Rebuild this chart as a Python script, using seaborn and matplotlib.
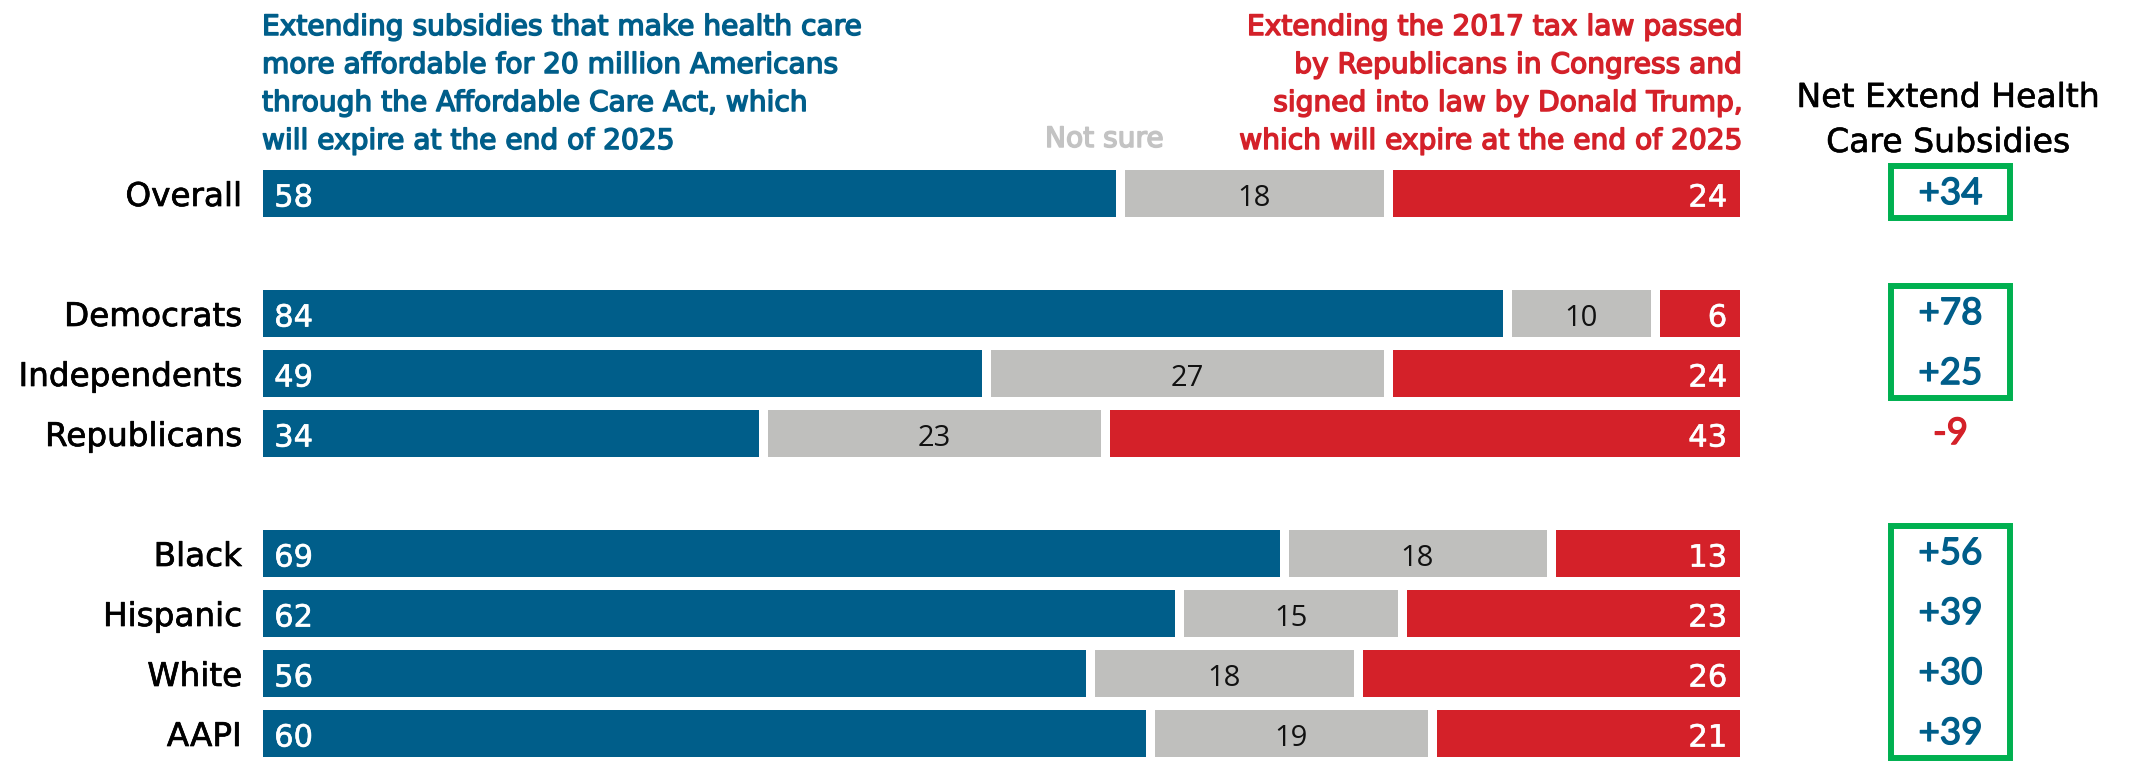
import matplotlib
matplotlib.use("Agg")
import matplotlib.pyplot as plt
import matplotlib.patheffects as pe
from matplotlib.patches import Rectangle
from matplotlib.transforms import offset_copy
import pandas as pd
import seaborn as sns

# ---- data -------------------------------------------------------------
groups = ["Overall", "Democrats", "Independents", "Republicans",
          "Black", "Hispanic", "White", "AAPI"]
extend_subsidies = [58, 84, 49, 34, 69, 62, 56, 60]
not_sure = [18, 10, 27, 23, 18, 15, 18, 19]
extend_tax_law = [24, 6, 24, 43, 13, 23, 26, 21]

# blank spacer rows separate the three blocks
row_order = ["Overall", "", "Democrats", "Independents", "Republicans", " ",
             "Black", "Hispanic", "White", "AAPI"]

left_header = ["Extending subsidies that make health care",
               "more affordable for 20 million Americans",
               "through the Affordable Care Act, which",
               "will expire at the end of 2025"]
right_header = ["Extending the 2017 tax law passed",
                "by Republicans in Congress and",
                "signed into law by Donald Trump,",
                "which will expire at the end of 2025"]
middle_header = "Not sure"
net_header = ["Net Extend Health", "Care Subsidies"]

# ---- styling ----------------------------------------------------------
BLUE = "#005E8A"
RED = "#D42129"
GRAY = "#BFBFBD"
GREEN = "#00B050"
NOT_SURE_GRAY = "#C3C3C3"

sns.set_theme(style="white")
plt.rcParams["font.family"] = ["DejaVu Sans"]

df = pd.DataFrame({"group": groups, "blue": extend_subsidies,
                   "gray": not_sure, "red": extend_tax_law})
df["net"] = df["blue"] - df["red"]
df["cum_gray"] = df["blue"] + df["gray"]
df["cum_red"] = df["cum_gray"] + df["red"]

W, H, DPI = 2131, 764, 100
fig = plt.figure(figsize=(W / DPI, H / DPI), dpi=DPI)
ax = fig.add_axes([257.5 / W, 1 / H, 1487 / W, 600 / H])

gap_pt = 9 * 72 / DPI
bar_kw = dict(orient="h", order=row_order, width=0.917, saturation=1,
              linewidth=gap_pt, edgecolor="white", errorbar=None, ax=ax)
# stacked by overdrawing cumulative totals; white edges give the gaps
sns.barplot(data=df, x="cum_red", y="group", color=RED, **bar_kw)
sns.barplot(data=df, x="cum_gray", y="group", color=GRAY, **bar_kw)
sns.barplot(data=df, x="blue", y="group", color=BLUE, **bar_kw)

ax.set_xlim(0, 100)
ax.set_ylim(len(row_order) - 0.5, -0.5)
ax.set_xlabel("")
ax.set_ylabel("")
ax.set_xticks([])
sns.despine(ax=ax, left=True, bottom=True)
ax.tick_params(axis="y", length=0, pad=11.2, labelsize=23.5, labelcolor="black")
for lbl in ax.get_yticklabels():
    lbl.set_path_effects([pe.withStroke(linewidth=0.5, foreground="black")])

left_tr = offset_copy(ax.transData, fig=fig, x=12, y=-1.5, units="points")
right_tr = offset_copy(ax.transData, fig=fig, x=-12.5, y=-1.5, units="points")
mid_tr = offset_copy(ax.transData, fig=fig, x=0, y=-1.5, units="points")
white_fx = [pe.withStroke(linewidth=0.4, foreground="white")]

NET_X = 113.85
for _, r in df.iterrows():
    y = row_order.index(r["group"])
    ax.text(0, y, f"{r['blue']}", transform=left_tr, ha="left",
            va="center_baseline", color="white", fontsize=22, path_effects=white_fx)
    ax.text(100, y, f"{r['red']}", transform=right_tr, ha="right",
            va="center_baseline", color="white", fontsize=22, path_effects=white_fx)
    ax.text(r["blue"] + r["gray"] / 2, y, f"{r['gray']}", transform=mid_tr,
            ha="center", va="center_baseline", color="#111111", fontsize=21,
            family=["Open Sans", "DejaVu Sans"])
    net_color = BLUE if r["net"] > 0 else RED
    ax.text(NET_X, y - 0.04, f"{r['net']:+d}", ha="center", va="center_baseline",
            color=net_color, fontsize=26.5, family=["Lato", "DejaVu Sans"],
            clip_on=False,
            path_effects=[pe.withStroke(linewidth=1.0, foreground=net_color)])

# green frames around consecutive rows with a positive net
net_by_row = {g: n for g, n in zip(df["group"], df["net"])}
runs, cur = [], []
for i, g in enumerate(row_order):
    if g in net_by_row and net_by_row[g] > 0:
        cur.append(i)
    else:
        if cur:
            runs.append(cur)
        cur = []
if cur:
    runs.append(cur)
for run in runs:
    top, bottom = run[0] - 0.45, run[-1] + 0.42
    ax.add_patch(Rectangle((NET_X - 4.0, top), 8.0, bottom - top, fill=False,
                           edgecolor=GREEN, linewidth=4.3, clip_on=False))

# ---- headers ----------------------------------------------------------
def fy(px):
    return 1 - px / H

baselines = [35, 73, 111, 149]
for line, yb in zip(left_header, baselines):
    fig.text(262 / W, fy(yb), line, ha="left", va="baseline", fontsize=20.2,
             color=BLUE, path_effects=[pe.withStroke(linewidth=1.1, foreground=BLUE)])
for line, yb in zip(right_header, baselines):
    fig.text(1740 / W, fy(yb), line, ha="right", va="baseline", fontsize=20.2,
             color=RED, path_effects=[pe.withStroke(linewidth=1.1, foreground=RED)])
fig.text(1104 / W, fy(147), middle_header, ha="center", va="baseline",
         fontsize=20.2, color=NOT_SURE_GRAY,
         path_effects=[pe.withStroke(linewidth=1.1, foreground=NOT_SURE_GRAY)])
for line, yb in zip(net_header, [107, 152]):
    fig.text(1948 / W, fy(yb), line, ha="center", va="baseline", fontsize=23.8,
             color="black", path_effects=[pe.withStroke(linewidth=0.4, foreground="black")])

fig.savefig("out.png", dpi=DPI, facecolor="white")
